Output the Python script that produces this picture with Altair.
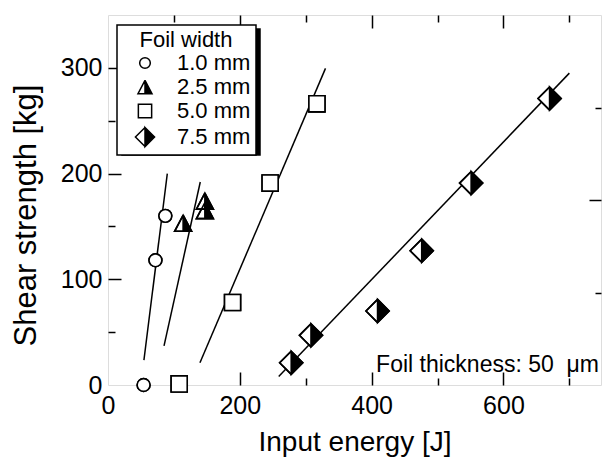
import altair as alt
import pandas as pd

FONT = "Liberation Sans"

# ---- data ----
widths = ["1.0 mm", "2.5 mm", "5.0 mm", "7.5 mm"]

e_10 = [54, 72, 87]
s_10 = [0, 118, 160]
e_25 = [114, 147, 147]
s_25 = [153, 165, 174]
e_50 = [108, 189, 246, 317]
s_50 = [1, 78, 191, 266]
e_75 = [278, 308, 409, 476, 551, 670]
s_75 = [21, 47, 70, 127, 191, 271]

# fitted straight lines (start / end) per foil width
fit_e_start = [54.5, 85, 139.5, 259]
fit_s_start = [23.5, 37, 21, 8]
fit_e_end = [90, 140, 330, 700]
fit_s_end = [200, 192, 299.5, 295]

x_label_values = [0, 200, 400, 600]
y_label_values = [0, 100, 200, 300]
note = ["Foil thickness: 50\u00a0 \u03bcm"]

# ---- tables ----
rows = []
for w, es, ss in zip(widths, [e_10, e_25, e_50, e_75], [s_10, s_25, s_50, s_75]):
    for e, s in zip(es, ss):
        rows.append({"E": e, "S": s, "width": w, "w2": w, "w3": w})
pts = pd.DataFrame(rows)

lrows = []
for w, a, b, c, d in zip(widths, fit_e_start, fit_s_start, fit_e_end, fit_s_end):
    lrows.append({"E": a, "S": b, "width": w})
    lrows.append({"E": c, "S": d, "width": w})
lines_df = pd.DataFrame(lrows)
note_df = pd.DataFrame({"note": note})

# ---- marker shapes (unit square paths) ----
tri_full = "M0,-1.25L1.32,1.25L-1.32,1.25Z"
tri_half = "M0,-1.25L1.32,1.25L0,1.25Z M0,-1.25L-1.32,1.25L0,1.25L-1.32,1.25Z"
sq = "M-1.25,-1.25L1.25,-1.25L1.25,1.25L-1.25,1.25Z"
dia_full = "M0,-1.8L1.8,0L0,1.8L-1.8,0Z"
dia_half = "M0,-1.8L1.8,0L0,1.8Z M0,-1.8L-1.8,0L0,1.8L-1.8,0Z"

xs = alt.Scale(domain=[0, 748], nice=False, zero=False)
ys = alt.Scale(domain=[0, 350], nice=False, zero=False)


def tick_axis(orient, values, length):
    return alt.Axis(orient=orient, values=values, tickSize=length, offset=-length,
                    labels=False, domain=False, grid=False, title=None,
                    ticks=True, tickColor="black", tickWidth=1.5)


label_x_axis = alt.Axis(orient="bottom", values=x_label_values, ticks=False, domain=False,
                        grid=False, labelFontSize=25, labelFont=FONT, labelColor="black",
                        labelPadding=8, labelFlush=False, labelOverlap=False, format="d",
                        title="Input energy [J]", titleFontSize=28, titleFont=FONT,
                        titleFontWeight="normal", titleColor="black", titleY=65,
                        titleBaseline="alphabetic")
label_y_axis = alt.Axis(orient="left", values=y_label_values, ticks=False, domain=False,
                        grid=False, labelFontSize=25, labelFont=FONT, labelColor="black",
                        labelPadding=6, labelFlush=False, labelOverlap=False, format="d",
                        title="Shear strength [kg]", titleFontSize=31, titleFont=FONT,
                        titleFontWeight="normal", titleColor="black", titleX=-73, titleY=200,
                        titleAngle=270, titleAlign="center", titleBaseline="alphabetic")

common_legend = dict(orient="none", padding=5,
                     titleFontSize=22, titleFont=FONT, titleFontWeight="normal",
                     titlePadding=0, titleAnchor="middle",
                     labelFontSize=22, labelFont=FONT, labelLimit=300,
                     symbolOffset=12, symbolStrokeWidth=1.5, rowPadding=2)

main_legend = alt.Legend(title="Foil width", legendX=9, legendY=10, fillColor="white",
                         strokeColor="black", titleColor="black", labelColor="black",
                         labelOffset=21, symbolSize=113, symbolStrokeColor="black",
                         **common_legend)
# drop shadow of the legend box: same box size, no visible text
shadow_legend = alt.Legend(title=" ", legendX=14, legendY=14, fillColor="black",
                           strokeColor="black", titleColor="black", labelColor="black",
                           labelExpr="''", labelOffset=94, symbolFillColor="black",
                           symbolStrokeColor="black", **common_legend)

lines = alt.Chart(lines_df).mark_line(color="black", strokeWidth=1.5).encode(
    x=alt.X("E:Q", scale=xs, axis=label_x_axis),
    y=alt.Y("S:Q", scale=ys, axis=label_y_axis),
    detail="width:N",
)

under = alt.Chart(pts).mark_point(filled=True, fill="white", stroke="black", strokeWidth=1.6,
                                  size=165, opacity=1).encode(
    x=alt.X("E:Q", scale=xs, axis=tick_axis("bottom", [200, 400, 600], 13)),
    y=alt.Y("S:Q", scale=ys, axis=tick_axis("left", [100, 200, 300], 13)),
    shape=alt.Shape("w2:N", scale=alt.Scale(domain=widths, range=["circle", tri_full, sq, dia_full]),
                    legend=None),
)

dummy_minor = alt.Chart(pts).mark_point(opacity=0).encode(
    x=alt.X("E:Q", scale=xs, axis=tick_axis("top", [100, 300, 500, 700], 7)),
    y=alt.Y("S:Q", scale=ys, axis=tick_axis("right", [87.5, 262.5], 6)),
    size=alt.Size("w3:O", scale=alt.Scale(domain=widths, range=[113, 113]), legend=shadow_legend),
)

over = alt.Chart(pts).mark_point(filled=True, strokeWidth=1.6, size=165, opacity=1).encode(
    x=alt.X("E:Q", scale=xs, axis=tick_axis("bottom", [100, 300, 500, 700], 7)),
    y=alt.Y("S:Q", scale=ys, axis=tick_axis("left", [50, 150, 250], 7)),
    shape=alt.Shape("width:N", scale=alt.Scale(domain=widths, range=["circle", tri_half, sq, dia_half]),
                    legend=main_legend),
    fill=alt.Fill("width:N", scale=alt.Scale(domain=widths, range=["white", "black", "white", "black"]),
                  legend=main_legend),
    stroke=alt.Stroke("width:N", scale=alt.Scale(domain=widths, range=["black", "black", "black", "black"]),
                      legend=main_legend),
)

dummy_major = alt.Chart(pts).mark_point(opacity=0).encode(
    x=alt.X("E:Q", scale=xs, axis=tick_axis("top", [200, 400, 600], 13)),
    y=alt.Y("S:Q", scale=ys, axis=tick_axis("right", [175], 12)),
)

text = alt.Chart(note_df).mark_text(align="right", baseline="alphabetic", fontSize=23,
                                    font=FONT, color="black").encode(
    x=alt.value(491), y=alt.value(357), text="note:N")

chart = alt.layer(lines, under, dummy_minor, over, dummy_major, text).resolve_axis(
    x="independent", y="independent"
).resolve_scale(
    shape="independent", fill="independent", size="independent", stroke="independent"
).properties(
    width=493, height=370,
    autosize=alt.AutoSizeParams(type="none"),
    padding={"left": 108, "top": 15, "right": 1, "bottom": 73},
    background="white",
).configure_view(stroke="black", strokeWidth=2).configure(font=FONT).configure_legend(strokeWidth=1.5)

chart.save("out.html", embed_options={"renderer": "svg", "actions": False})
